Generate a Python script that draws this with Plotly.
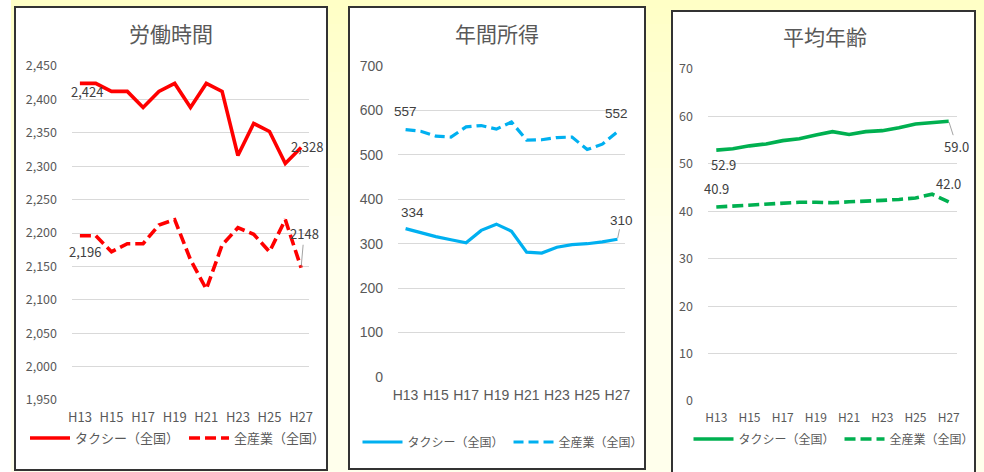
import plotly.graph_objects as go

# ---------------- data ----------------
years = ["H13", "H14", "H15", "H16", "H17", "H18", "H19", "H20",
         "H21", "H22", "H23", "H24", "H25", "H26", "H27"]
tick_years = years[::2]

hours_taxi = [2424, 2424, 2412, 2412, 2388, 2412, 2424, 2388,
              2424, 2412, 2316, 2364, 2352, 2304, 2328]
hours_all = [2196, 2196, 2172, 2184, 2184, 2212, 2220, 2160,
             2116, 2182, 2208, 2198, 2172, 2220, 2148]

income_taxi = [334, 325, 316, 309, 302, 330, 344, 328,
               281, 279, 292, 298, 300, 304, 310]
income_all = [557, 553, 542, 540, 563, 566, 558, 574,
              533, 534, 539, 540, 512, 524, 552]

age_taxi = [52.9, 53.2, 53.8, 54.2, 54.9, 55.3, 56.1, 56.8,
            56.2, 56.8, 57.0, 57.6, 58.4, 58.7, 59.0]
age_all = [40.9, 41.1, 41.3, 41.5, 41.8, 41.9, 41.9, 41.8,
           42.0, 42.1, 42.3, 42.5, 42.8, 43.6, 42.0]

titles = ["労働時間", "年間所得", "平均年齢"]
series_names = ["タクシー（全国）", "全産業（全国）"]

# ---------------- styling ----------------
W, H = 984, 472
JP = "Noto Sans CJK JP"
ARIAL = "Liberation Sans"
GREY = "#595959"
LBL = "#404040"
GRID = "#D9D9D9"


def px_x(p):
    return p / W


def px_y(p):
    return 1 - p / H


panels = [
    dict(box=(15, 7, 327, 470), plot=(72, 66, 309, 400), color="#FF0000",
         taxi=hours_taxi, allv=hours_all, rng=[1950, 2450], dtick=50,
         fmt=",", font=JP, tsize=12.5, xsize=13, lw=3.6, dash="11px,5px",
         title_xy=(171, 33), legend_xy=(178, 438), lsize=13),
    dict(box=(349, 7, 645, 469), plot=(398, 66, 625, 377), color="#00B0F0",
         taxi=income_taxi, allv=income_all, rng=[0, 700], dtick=100,
         fmt="", font=ARIAL, tsize=14, xsize=14, lw=3.2, dash="10px,5px",
         title_xy=(497, 33), legend_xy=(503, 442), lsize=12),
    dict(box=(672, 11, 975, 474), plot=(708, 69, 957, 401), color="#00B050",
         taxi=age_taxi, allv=age_all, rng=[0, 70], dtick=10,
         fmt="", font=JP, tsize=12.5, xsize=12, lw=3.6, dash="11px,5px",
         title_xy=(825, 36), legend_xy=(834, 439), lsize=12),
]

fig = go.Figure()

# soft vertical yellow gradient for the backdrop (style only)
shapes = []
band = 8
for top in range(0, H, band):
    t = min(1.0, top / 260)
    b = int(round(0xC6 + (0xEC - 0xC6) * t))
    shapes.append(dict(type="rect", xref="paper", yref="paper", x0=0, x1=1,
                       y0=px_y(min(H, top + band + 1)), y1=px_y(top),
                       fillcolor=f"#FFFF{b:02X}", line=dict(width=0),
                       layer="below"))
shapes.append(dict(type="rect", xref="paper", yref="paper", x0=0, x1=px_x(11),
                   y0=0, y1=1, fillcolor="white", line=dict(width=0),
                   layer="below"))
annotations = []

for i, p in enumerate(panels):
    n = "" if i == 0 else str(i + 1)
    xa, ya = "x" + n, "y" + n
    leg = "legend" + n
    bx0, by0, bx1, by1 = p["box"]
    shapes.append(dict(type="rect", xref="paper", yref="paper",
                       x0=px_x(bx0), x1=px_x(bx1), y0=px_y(by1), y1=px_y(by0),
                       fillcolor="white", line=dict(color="#333333", width=2),
                       layer="below"))
    qx0, qy0, qx1, qy1 = p["plot"]
    fig.add_trace(go.Scatter(x=years, y=p["taxi"], name=series_names[0],
                             mode="lines", xaxis=xa, yaxis=ya, legend=leg,
                             line=dict(color=p["color"], width=p["lw"])))
    fig.add_trace(go.Scatter(x=years, y=p["allv"], name=series_names[1],
                             mode="lines", xaxis=xa, yaxis=ya, legend=leg,
                             line=dict(color=p["color"], width=p["lw"],
                                       dash=p["dash"])))
    xkey = "xaxis" + n
    ykey = "yaxis" + n
    fig.update_layout({
        xkey: dict(domain=[px_x(qx0), px_x(qx1)], anchor=ya, type="category",
                   range=[-0.5, len(years) - 0.5],
                   tickmode="array", tickvals=tick_years, ticktext=tick_years,
                   showgrid=False, showline=False, zeroline=False, ticks="",
                   automargin=False, ticklabelstandoff=8,
                   tickfont=dict(family=p["font"], size=p["xsize"], color=GREY)),
        ykey: dict(domain=[px_y(qy1), px_y(qy0)], anchor=xa,
                   range=[p["rng"][0], p["rng"][1] * 1.00002],
                   dtick=p["dtick"], tick0=p["rng"][0], tickformat=p["fmt"],
                   showgrid=True, gridcolor=GRID, gridwidth=1,
                   zeroline=False, showline=False, ticks="",
                   automargin=False, ticklabelstandoff=14,
                   tickfont=dict(family=p["font"], size=p["tsize"], color=GREY)),
        leg: dict(orientation="h", x=px_x(p["legend_xy"][0]),
                  y=px_y(p["legend_xy"][1]), xanchor="center", yanchor="middle",
                  bgcolor="rgba(0,0,0,0)", itemwidth=40,
                  font=dict(family=JP, size=p["lsize"], color=GREY)),
    })
    annotations.append(dict(text=titles[i], xref="paper", yref="paper",
                            x=px_x(p["title_xy"][0]), y=px_y(p["title_xy"][1]),
                            showarrow=False, xanchor="center", yanchor="middle",
                            font=dict(family=JP, size=21, color=GREY)))


# ---------------- data labels ----------------
def lab(xa, ya, xv, yv, text, font, size, xs=0, ys=0, arrow=None):
    d = dict(xref=xa, yref=ya, x=xv, y=yv, text=text,
             font=dict(family=font, size=size, color=LBL))
    if arrow:
        d.update(showarrow=True, arrowhead=0, arrowwidth=0.8,
                 arrowcolor="#8c8c8c", ax=arrow[0], ay=arrow[1], standoff=1)
    else:
        d.update(showarrow=False, xshift=xs, yshift=ys)
    annotations.append(d)


# panel 1
lab("x", "y", years[0], hours_taxi[0], f"{hours_taxi[0]:,}", JP, 13, xs=7, ys=-8)
lab("x", "y", years[-1], hours_taxi[-1], f"{hours_taxi[-1]:,}", JP, 13, xs=6, ys=1)
lab("x", "y", years[0], hours_all[0], f"{hours_all[0]:,}", JP, 13, xs=5, ys=-16)
lab("x", "y", years[-1], hours_all[-1], f"{hours_all[-1]}", JP, 13, arrow=(3, -34))
# panel 2
lab("x2", "y2", years[0], income_all[0], f"{income_all[0]}", ARIAL, 13.5, xs=0, ys=18)
lab("x2", "y2", years[-1], income_all[-1], f"{income_all[-1]}", ARIAL, 13.5, xs=-1, ys=18)
lab("x2", "y2", years[0], income_taxi[0], f"{income_taxi[0]}", ARIAL, 13.5, xs=7, ys=16)
lab("x2", "y2", years[-1], income_taxi[-1], f"{income_taxi[-1]}", ARIAL, 13.5, arrow=(4, -19))
# panel 3
lab("x3", "y3", years[0], age_taxi[0], f"{age_taxi[0]:.1f}", JP, 13, xs=7, ys=-14)
lab("x3", "y3", years[-1], age_taxi[-1], f"{age_taxi[-1]:.1f}", JP, 13, arrow=(8, 25))
lab("x3", "y3", years[0], age_all[0], f"{age_all[0]:.1f}", JP, 13, xs=0, ys=19)
lab("x3", "y3", years[-1], age_all[-1], f"{age_all[-1]:.1f}", JP, 13, xs=0, ys=18)

fig.update_layout(
    template="none",
    width=W, height=H, margin=dict(l=0, r=0, t=0, b=0, pad=0, autoexpand=False),
    paper_bgcolor="#FFFFD9", plot_bgcolor="rgba(0,0,0,0)",
    shapes=shapes, annotations=annotations, showlegend=True,
)

fig.write_html(
    "out.html",
    config={"displayModeBar": False},
    post_script="document.body.style.margin='0';document.body.style.padding='0';"
                "document.documentElement.style.overflow='hidden';"
                "document.body.style.overflow='hidden';",
)
